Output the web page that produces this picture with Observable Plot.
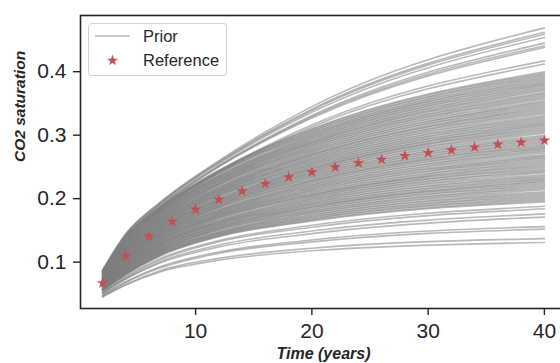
<!DOCTYPE html>
<html><head><meta charset="utf-8">
<script src="https://cdn.jsdelivr.net/npm/d3@7"></script>
<script src="https://cdn.jsdelivr.net/npm/@observablehq/plot@0.6"></script>
<style>
html,body{margin:0;padding:0;background:#fff;}
#wrap{position:relative;width:560px;height:363px;overflow:hidden;background:#fff;}
#wrap svg{display:block;}
#legend{position:absolute;left:0;top:0;pointer-events:none;}
</style></head><body><div id="wrap"></div>
<script>
// Sample times (years) at which each prior curve is read
const times = [2, 4, 7, 12, 20, 40];

// Dense band of prior curves: values at each sample time (curve k is the k-th entry)
const denseT2 = [.055,.055,.056,.056,.056,.057,.057,.057,.057,.058,.058,.058,.059,.059,.059,.060,.060,.060,.061,.061,.061,.061,.062,.062,.062,.063,.063,.063,.064,.064,.064,.064,.065,.065,.065,.066,.066,.066,.067,.067,.067,.067,.068,.068,.068,.069,.069,.069,.070,.070,.070,.071,.071,.071,.071,.072,.072,.072,.073,.073,.073,.074,.074,.074,.074,.075,.075,.075,.076,.076,.076,.077,.077,.077,.077,.078,.078,.078,.079,.079,.079,.080,.080,.080,.081,.081,.081,.081,.082,.082,.082,.083,.083,.083,.084,.084,.084,.084,.085,.085];
const denseT4 = [.080,.081,.081,.082,.082,.083,.084,.084,.085,.085,.086,.087,.087,.088,.088,.089,.090,.090,.091,.092,.092,.093,.093,.094,.095,.095,.096,.096,.097,.098,.098,.099,.099,.100,.101,.101,.102,.102,.103,.104,.104,.105,.105,.106,.107,.107,.108,.108,.109,.110,.110,.111,.112,.112,.113,.113,.114,.115,.115,.116,.116,.117,.118,.118,.119,.119,.120,.121,.121,.122,.122,.123,.124,.124,.125,.125,.126,.127,.127,.128,.128,.129,.130,.130,.131,.132,.132,.133,.133,.134,.135,.135,.136,.136,.137,.138,.138,.139,.139,.140];
const denseT7 = [.110,.111,.112,.112,.113,.114,.115,.116,.116,.117,.118,.119,.119,.120,.121,.122,.123,.123,.124,.125,.126,.127,.127,.128,.129,.130,.130,.131,.132,.133,.134,.134,.135,.136,.137,.138,.138,.139,.140,.141,.142,.142,.143,.144,.145,.145,.146,.147,.148,.149,.149,.150,.151,.152,.153,.153,.154,.155,.156,.156,.157,.158,.159,.160,.160,.161,.162,.163,.164,.164,.165,.166,.167,.168,.168,.169,.170,.171,.171,.172,.173,.174,.175,.175,.176,.177,.178,.179,.179,.180,.181,.182,.182,.183,.184,.185,.186,.186,.187,.188];
const denseT12 = [.140,.141,.142,.143,.144,.145,.146,.147,.148,.150,.151,.152,.153,.154,.155,.156,.157,.158,.159,.160,.161,.162,.163,.164,.165,.166,.168,.169,.170,.171,.172,.173,.174,.175,.176,.177,.178,.179,.180,.181,.182,.183,.185,.186,.187,.188,.189,.190,.191,.192,.193,.194,.195,.196,.197,.198,.199,.200,.201,.203,.204,.205,.206,.207,.208,.209,.210,.211,.212,.213,.214,.215,.216,.217,.218,.219,.221,.222,.223,.224,.225,.226,.227,.228,.229,.230,.231,.232,.233,.234,.235,.236,.237,.239,.240,.241,.242,.243,.244,.245];
const denseT20 = [.165,.166,.168,.169,.171,.172,.174,.175,.177,.178,.180,.181,.183,.184,.186,.187,.188,.190,.191,.193,.194,.196,.197,.199,.200,.202,.203,.205,.206,.207,.209,.210,.212,.213,.215,.216,.218,.219,.221,.222,.224,.225,.227,.228,.229,.231,.232,.234,.235,.237,.238,.240,.241,.243,.244,.246,.247,.248,.250,.251,.253,.254,.256,.257,.259,.260,.262,.263,.265,.266,.268,.269,.270,.272,.273,.275,.276,.278,.279,.281,.282,.284,.285,.287,.288,.289,.291,.292,.294,.295,.297,.298,.300,.301,.303,.304,.306,.307,.309,.310];
const denseT40 = [.195,.197,.199,.201,.203,.205,.207,.209,.211,.214,.216,.218,.220,.222,.224,.226,.228,.230,.232,.234,.236,.238,.241,.243,.245,.247,.249,.251,.253,.255,.257,.259,.261,.263,.265,.267,.269,.272,.274,.276,.278,.280,.282,.284,.286,.288,.290,.292,.294,.296,.298,.300,.303,.305,.307,.309,.311,.313,.315,.317,.319,.321,.323,.325,.327,.329,.331,.334,.336,.338,.340,.342,.344,.346,.348,.350,.352,.354,.357,.359,.361,.363,.365,.367,.370,.372,.374,.376,.378,.380,.382,.384,.386,.388,.390,.392,.394,.396,.398,.400];

// Sparse upper prior curves (values at the sample times)
const upperCurves = [
  [.088, .145, .195, .260, .345, .469],
  [.087, .144, .194, .258, .341, .462],
  [.086, .143, .193, .257, .339, .459],
  [.086, .142, .192, .255, .336, .454],
  [.085, .141, .190, .252, .331, .445],
  [.085, .140, .189, .251, .329, .441],
  [.084, .140, .188, .250, .327, .438],
  [.083, .137, .184, .243, .316, .417],
  [.083, .137, .183, .242, .313, .412]
];
// Sparse lower prior curves
const lowerCurves = [
  [.053, .077, .106, .134, .158, .188],
  [.052, .076, .104, .132, .155, .184],
  [.051, .074, .101, .127, .149, .176],
  [.050, .073, .099, .124, .145, .171],
  [.048, .069, .093, .116, .135, .156],
  [.047, .068, .091, .114, .132, .152],
  [.046, .065, .087, .106, .122, .137],
  [.045, .064, .085, .103, .118, .131]
];

// Reference simulation (red stars)
const refTimes = [2, 4, 6, 8, 10, 12, 14, 16, 18, 20, 22, 24, 26, 28, 30, 32, 34, 36, 38, 40];
const refValues = [0.067, 0.1095, 0.1405, 0.164, 0.183, 0.1987, 0.212, 0.2235, 0.234, 0.2417, 0.2496, 0.256, 0.2617, 0.2675, 0.2723, 0.2764, 0.281, 0.2854, 0.2885, 0.2917];

const xTicks = [10, 20, 30, 40];
const yTicks = [0.1, 0.2, 0.3, 0.4];
const legendLabels = ["Prior", "Reference"];

// Build tables
const denseCols = [denseT2, denseT4, denseT7, denseT12, denseT20, denseT40];
const nDense = Math.min(...denseCols.map(a => a.length));
const curves = [...lowerCurves];
for (let k = 0; k < nDense; k++) curves.push(denseCols.map(a => a[k]));
curves.push(...upperCurves);
const lineData = [];
curves.forEach((c, id) => c.forEach((v, j) => lineData.push({id, t: times[j], v})));
const refData = refTimes.map((t, i) => ({t, v: refValues[i]}));

const GRAY = "#808080", RED = "#c44e52", INK = "#262626";
const FONT = "'Liberation Sans', Arial, Helvetica, sans-serif";
const STAR_R = 3.6;

const chart = Plot.plot({
  width: 560, height: 363,
  marginLeft: 80, marginRight: -6, marginTop: 15, marginBottom: 55,
  style: {fontFamily: FONT, fontSize: "21px", color: INK, background: "transparent", overflow: "visible"},
  x: {domain: [0.1, 41.9]},
  y: {domain: [0.027, 0.4885]},
  marks: [
    Plot.line(lineData, {x: "t", y: "v", z: "id", stroke: GRAY, strokeOpacity: 0.55, strokeWidth: 1.6, curve: "monotone-x"}),
    Plot.dot(refData, {x: "t", y: "v", symbol: "star", r: STAR_R, fill: RED, stroke: "none"}),
    Plot.frame({stroke: INK, strokeWidth: 1.6}),
    Plot.axisX({ticks: xTicks, tickSize: 7, tickPadding: 8, label: null, strokeWidth: 1.4, tickFormat: d => String(d)}),
    Plot.axisY({ticks: yTicks, tickSize: 7, tickPadding: 7, label: null, strokeWidth: 1.4, tickFormat: d => d.toFixed(1)}),
    Plot.text(["CO2 saturation"], {frameAnchor: "left", rotate: -90, dx: -60, fontWeight: "bold", fontStyle: "italic", fontSize: 15.5, fill: INK}),
    Plot.text(["Time (years)"], {frameAnchor: "bottom", dy: 50, fontWeight: "bold", fontStyle: "italic", fontSize: 16, fill: INK})
  ]
});
const wrap = document.getElementById("wrap");
wrap.appendChild(chart);

// Legend overlay inside the axes (upper left)
const leg = d3.select(wrap).append("svg").attr("id", "legend").attr("width", 560).attr("height", 363);
leg.append("rect").attr("x", 88.5).attr("y", 23.5).attr("width", 138).attr("height", 52).attr("rx", 3)
  .attr("fill", "#fff").attr("fill-opacity", 0.8).attr("stroke", "#d0d0d0").attr("stroke-width", 1);
leg.append("line").attr("x1", 95).attr("x2", 130).attr("y1", 36).attr("y2", 36)
  .attr("stroke", GRAY).attr("stroke-opacity", 0.55).attr("stroke-width", 1.6);
leg.append("path").attr("transform", "translate(112.5,60.5)")
  .attr("d", d3.symbol(d3.symbolStar, Math.PI * STAR_R * STAR_R)()).attr("fill", RED);
legendLabels.forEach((s, i) => {
  leg.append("text").attr("x", 143).attr("y", 36 + 24.3 * i).attr("dy", "0.35em")
    .attr("font-family", FONT).attr("font-size", 16.5).attr("fill", INK).text(s);
});
</script></body></html>
